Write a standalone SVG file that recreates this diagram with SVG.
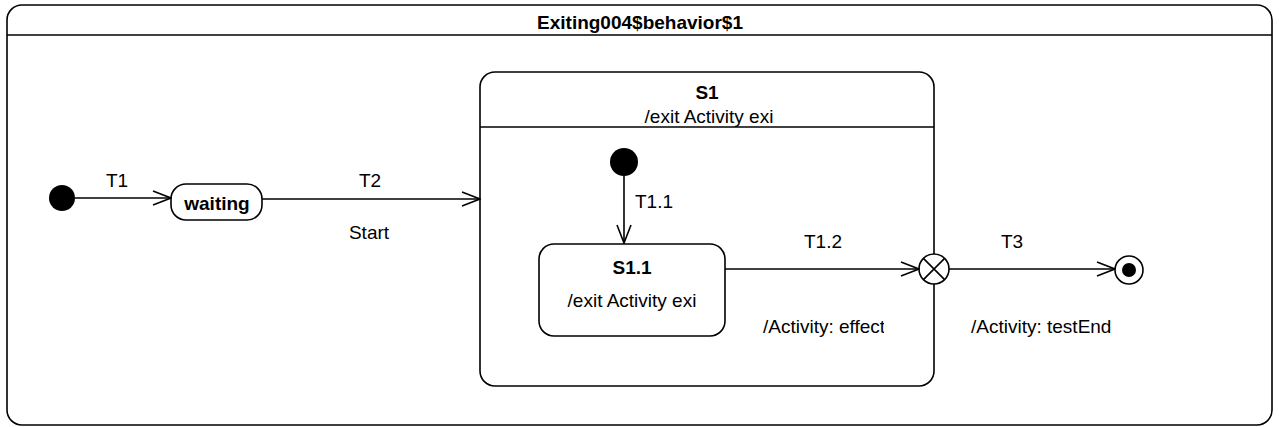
<svg xmlns="http://www.w3.org/2000/svg" width="1279" height="427" viewBox="0 0 1279 427">
<defs>
<marker id="open" viewBox="0 0 20 16" refX="19" refY="8" markerWidth="20" markerHeight="16" markerUnits="userSpaceOnUse" orient="auto">
<path d="M1,1 L19,8 L1,15" fill="none" stroke="#000" stroke-width="1.6"/>
</marker>
<clipPath id="clipEffect"><rect x="700" y="300" width="184" height="50"/></clipPath>
</defs>
<style>
text{font-family:"Liberation Sans",Arial,sans-serif;font-size:19px;fill:#000}
.b{font-weight:bold}
.box{fill:#fff;stroke:#000;stroke-width:1.6}
.ln{stroke:#000;stroke-width:1.6;fill:none}
.edge{stroke:#000;stroke-width:1.6;fill:none;marker-end:url(#open)}
</style>
<rect width="1279" height="427" fill="#fff"/>
<g id="frame">
<rect class="box" x="7" y="5" width="1265" height="420" rx="15" ry="15"/>
<line class="ln" x1="7" y1="35" x2="1272" y2="35"/>
<text class="b" x="640" y="29" text-anchor="middle">Exiting004$behavior$1</text>
</g>
<g id="S1">
<rect class="box" x="480" y="72" width="454" height="314" rx="15" ry="15"/>
<line class="ln" x1="480" y1="127" x2="934" y2="127"/>
<text class="b" x="707" y="99" text-anchor="middle">S1</text>
<text x="709" y="123" text-anchor="middle">/exit Activity exi</text>
</g>
<g id="initial1"><circle cx="62" cy="198" r="13" fill="#000"/></g>
<g id="waiting">
<rect class="box" x="171" y="184" width="91" height="36" rx="15" ry="15"/>
<text class="b" x="217" y="210" text-anchor="middle">waiting</text>
</g>
<g id="initial2"><circle cx="624" cy="162" r="14" fill="#000"/></g>
<g id="S1.1">
<rect class="box" x="539" y="244" width="186" height="92" rx="15" ry="15"/>
<text class="b" x="632" y="274" text-anchor="middle">S1.1</text>
<text x="632" y="307" text-anchor="middle">/exit Activity exi</text>
</g>
<g id="exitpoint">
<circle class="box" cx="934" cy="269" r="15"/>
<path class="ln" d="M923.4,258.4 L944.6,279.6 M944.6,258.4 L923.4,279.6" stroke-width="1"/>
</g>
<g id="final">
<circle class="box" cx="1129" cy="270" r="14"/>
<circle cx="1129" cy="270" r="7" fill="#000"/>
</g>
<g id="connectors">
<line class="edge" x1="75" y1="198" x2="171" y2="198"/>
<text x="117" y="187" text-anchor="middle">T1</text>
<line class="edge" x1="262" y1="199" x2="480" y2="199"/>
<text x="370" y="187" text-anchor="middle">T2</text>
<text x="369" y="239" text-anchor="middle">Start</text>
<line class="edge" x1="624" y1="176" x2="624" y2="243"/>
<text x="635" y="208">T1.1</text>
<line class="edge" x1="725" y1="269" x2="919" y2="269"/>
<text x="823" y="248" text-anchor="middle">T1.2</text>
<text x="763" y="333" clip-path="url(#clipEffect)">/Activity: effect</text>
<line class="edge" x1="949" y1="269" x2="1115" y2="269"/>
<text x="1012" y="248" text-anchor="middle">T3</text>
<text x="971" y="333">/Activity: testEnd</text>
</g>
</svg>
